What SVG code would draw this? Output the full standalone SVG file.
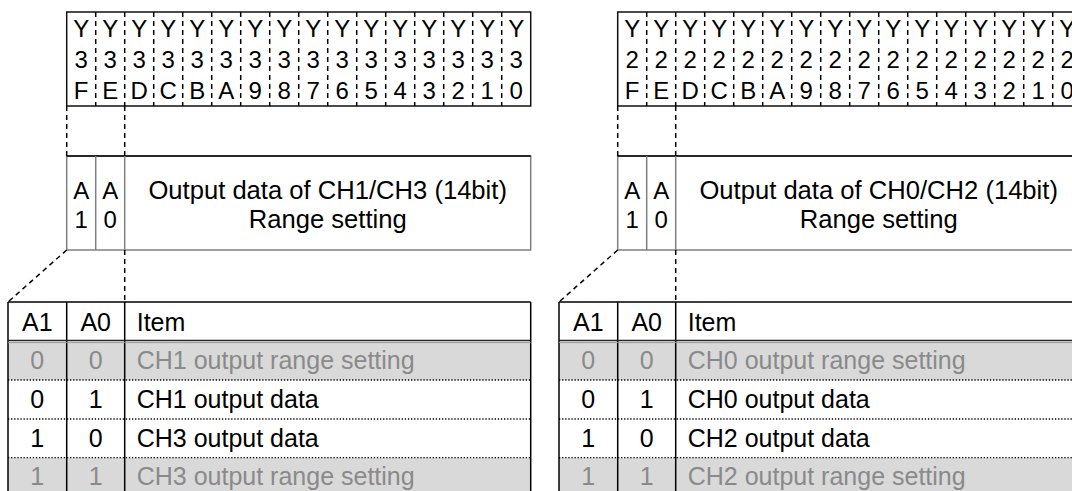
<svg xmlns="http://www.w3.org/2000/svg" width="1072" height="491" viewBox="0 0 1072 491">
<style>
text{font-family:"Liberation Sans",Arial,sans-serif;fill:#000}
.reg{font-size:24px;text-anchor:middle}
.ab{font-size:24px;text-anchor:middle}
.big{font-size:25.6px;text-anchor:middle}
.tb{font-size:25px}
.c{text-anchor:middle}
.g{fill:#8a8a8a}
.box{fill:#fff;stroke:#111;stroke-width:1.5}
.abox{fill:#fff;stroke:#808080;stroke-width:1.5}
.dash{stroke:#000;stroke-width:1.5;stroke-dasharray:5 4;fill:none}
.dot{stroke:#000;stroke-width:1.3;stroke-dasharray:1.3 1.8;fill:none}
.solid{stroke:#000;stroke-width:1.5;fill:none}
.grow{fill:#d9d9d9}
</style>

<g id="reg-left">
<rect class="box" x="66.7" y="12" width="464" height="94"/>
<path class="dash" d="M95.7 12V106M124.7 12V106M153.7 12V106M182.7 12V106M211.7 12V106M240.7 12V106M269.7 12V106M298.7 12V106M327.7 12V106M356.7 12V106M385.7 12V106M414.7 12V106M443.7 12V106M472.7 12V106M501.7 12V106"/>
<text class="reg"><tspan x="81.2" y="37">Y</tspan><tspan x="81.2" y="68">3</tspan><tspan x="81.2" y="99">F</tspan></text>
<text class="reg"><tspan x="110.2" y="37">Y</tspan><tspan x="110.2" y="68">3</tspan><tspan x="110.2" y="99">E</tspan></text>
<text class="reg"><tspan x="139.2" y="37">Y</tspan><tspan x="139.2" y="68">3</tspan><tspan x="139.2" y="99">D</tspan></text>
<text class="reg"><tspan x="168.2" y="37">Y</tspan><tspan x="168.2" y="68">3</tspan><tspan x="168.2" y="99">C</tspan></text>
<text class="reg"><tspan x="197.2" y="37">Y</tspan><tspan x="197.2" y="68">3</tspan><tspan x="197.2" y="99">B</tspan></text>
<text class="reg"><tspan x="226.2" y="37">Y</tspan><tspan x="226.2" y="68">3</tspan><tspan x="226.2" y="99">A</tspan></text>
<text class="reg"><tspan x="255.2" y="37">Y</tspan><tspan x="255.2" y="68">3</tspan><tspan x="255.2" y="99">9</tspan></text>
<text class="reg"><tspan x="284.2" y="37">Y</tspan><tspan x="284.2" y="68">3</tspan><tspan x="284.2" y="99">8</tspan></text>
<text class="reg"><tspan x="313.2" y="37">Y</tspan><tspan x="313.2" y="68">3</tspan><tspan x="313.2" y="99">7</tspan></text>
<text class="reg"><tspan x="342.2" y="37">Y</tspan><tspan x="342.2" y="68">3</tspan><tspan x="342.2" y="99">6</tspan></text>
<text class="reg"><tspan x="371.2" y="37">Y</tspan><tspan x="371.2" y="68">3</tspan><tspan x="371.2" y="99">5</tspan></text>
<text class="reg"><tspan x="400.2" y="37">Y</tspan><tspan x="400.2" y="68">3</tspan><tspan x="400.2" y="99">4</tspan></text>
<text class="reg"><tspan x="429.2" y="37">Y</tspan><tspan x="429.2" y="68">3</tspan><tspan x="429.2" y="99">3</tspan></text>
<text class="reg"><tspan x="458.2" y="37">Y</tspan><tspan x="458.2" y="68">3</tspan><tspan x="458.2" y="99">2</tspan></text>
<text class="reg"><tspan x="487.2" y="37">Y</tspan><tspan x="487.2" y="68">3</tspan><tspan x="487.2" y="99">1</tspan></text>
<text class="reg"><tspan x="516.2" y="37">Y</tspan><tspan x="516.2" y="68">3</tspan><tspan x="516.2" y="99">0</tspan></text>
</g>

<g id="abox-left">
<rect class="abox" x="66.7" y="156" width="464" height="94"/>
<path class="solid" d="M66.7 156H530.7"/>
<path d="M95.7 156V250M124.7 156V250" stroke="#808080" stroke-width="1.5"/>
<text class="ab"><tspan x="81.2" y="198.5">A</tspan><tspan x="81.2" y="228">1</tspan></text>
<text class="ab"><tspan x="110.2" y="198.5">A</tspan><tspan x="110.2" y="228">0</tspan></text>
<text class="big"><tspan x="327.7" y="198.5">Output data of CH1/CH3 (14bit)</tspan><tspan x="327.7" y="228">Range setting</tspan></text>
</g>

<g id="table-left">
<rect x="8" y="302" width="522.7" height="195" fill="#fff"/>
<rect class="grow" x="8" y="342" width="522.7" height="38"/>
<rect class="grow" x="8" y="457.7" width="522.7" height="40"/>
<path class="dot" d="M8 380H530.7M8 419H530.7M8 457.7H530.7"/>
<path class="solid" d="M8 302H530.7M8 302V491M66.7 302V491M124.7 302V491M530.7 302V491"/>
<path d="M8 340.5H530.7" stroke="#222" stroke-width="1.6"/>
<path d="M8 342.6H530.7" stroke="#999" stroke-width="1"/>
<text class="tb c" x="37.3" y="331">A1</text>
<text class="tb c" x="95.7" y="331">A0</text>
<text class="tb" x="136.7" y="331">Item</text>
<text class="tb c g" x="37.3" y="369">0</text>
<text class="tb c g" x="95.7" y="369">0</text>
<text class="tb g" x="136.7" y="369">CH1 output range setting</text>
<text class="tb c" x="37.3" y="408">0</text>
<text class="tb c" x="95.7" y="408">1</text>
<text class="tb" x="136.7" y="408">CH1 output data</text>
<text class="tb c" x="37.3" y="446.5">1</text>
<text class="tb c" x="95.7" y="446.5">0</text>
<text class="tb" x="136.7" y="446.5">CH3 output data</text>
<text class="tb c g" x="37.3" y="485">1</text>
<text class="tb c g" x="95.7" y="485">1</text>
<text class="tb g" x="136.7" y="485">CH3 output range setting</text>
</g>

<g id="reg-right">
<rect class="box" x="617.7" y="12" width="464" height="94"/>
<path class="dash" d="M646.7 12V106M675.7 12V106M704.7 12V106M733.7 12V106M762.7 12V106M791.7 12V106M820.7 12V106M849.7 12V106M878.7 12V106M907.7 12V106M936.7 12V106M965.7 12V106M994.7 12V106M1023.7 12V106M1052.7 12V106"/>
<text class="reg"><tspan x="632.2" y="37">Y</tspan><tspan x="632.2" y="68">2</tspan><tspan x="632.2" y="99">F</tspan></text>
<text class="reg"><tspan x="661.2" y="37">Y</tspan><tspan x="661.2" y="68">2</tspan><tspan x="661.2" y="99">E</tspan></text>
<text class="reg"><tspan x="690.2" y="37">Y</tspan><tspan x="690.2" y="68">2</tspan><tspan x="690.2" y="99">D</tspan></text>
<text class="reg"><tspan x="719.2" y="37">Y</tspan><tspan x="719.2" y="68">2</tspan><tspan x="719.2" y="99">C</tspan></text>
<text class="reg"><tspan x="748.2" y="37">Y</tspan><tspan x="748.2" y="68">2</tspan><tspan x="748.2" y="99">B</tspan></text>
<text class="reg"><tspan x="777.2" y="37">Y</tspan><tspan x="777.2" y="68">2</tspan><tspan x="777.2" y="99">A</tspan></text>
<text class="reg"><tspan x="806.2" y="37">Y</tspan><tspan x="806.2" y="68">2</tspan><tspan x="806.2" y="99">9</tspan></text>
<text class="reg"><tspan x="835.2" y="37">Y</tspan><tspan x="835.2" y="68">2</tspan><tspan x="835.2" y="99">8</tspan></text>
<text class="reg"><tspan x="864.2" y="37">Y</tspan><tspan x="864.2" y="68">2</tspan><tspan x="864.2" y="99">7</tspan></text>
<text class="reg"><tspan x="893.2" y="37">Y</tspan><tspan x="893.2" y="68">2</tspan><tspan x="893.2" y="99">6</tspan></text>
<text class="reg"><tspan x="922.2" y="37">Y</tspan><tspan x="922.2" y="68">2</tspan><tspan x="922.2" y="99">5</tspan></text>
<text class="reg"><tspan x="951.2" y="37">Y</tspan><tspan x="951.2" y="68">2</tspan><tspan x="951.2" y="99">4</tspan></text>
<text class="reg"><tspan x="980.2" y="37">Y</tspan><tspan x="980.2" y="68">2</tspan><tspan x="980.2" y="99">3</tspan></text>
<text class="reg"><tspan x="1009.2" y="37">Y</tspan><tspan x="1009.2" y="68">2</tspan><tspan x="1009.2" y="99">2</tspan></text>
<text class="reg"><tspan x="1038.2" y="37">Y</tspan><tspan x="1038.2" y="68">2</tspan><tspan x="1038.2" y="99">1</tspan></text>
<text class="reg"><tspan x="1067.2" y="37">Y</tspan><tspan x="1067.2" y="68">2</tspan><tspan x="1067.2" y="99">0</tspan></text>
</g>

<g id="abox-right">
<rect class="abox" x="617.7" y="156" width="464" height="94"/>
<path class="solid" d="M617.7 156H1081.7"/>
<path d="M646.7 156V250M675.7 156V250" stroke="#808080" stroke-width="1.5"/>
<text class="ab"><tspan x="632.2" y="198.5">A</tspan><tspan x="632.2" y="228">1</tspan></text>
<text class="ab"><tspan x="661.2" y="198.5">A</tspan><tspan x="661.2" y="228">0</tspan></text>
<text class="big"><tspan x="878.7" y="198.5">Output data of CH0/CH2 (14bit)</tspan><tspan x="878.7" y="228">Range setting</tspan></text>
</g>

<g id="table-right">
<rect x="559" y="302" width="522.7" height="195" fill="#fff"/>
<rect class="grow" x="559" y="342" width="522.7" height="38"/>
<rect class="grow" x="559" y="457.7" width="522.7" height="40"/>
<path class="dot" d="M559 380H1081.7M559 419H1081.7M559 457.7H1081.7"/>
<path class="solid" d="M559 302H1081.7M559 302V491M617.7 302V491M675.7 302V491"/>
<path d="M559 340.5H1081.7" stroke="#222" stroke-width="1.6"/>
<path d="M559 342.6H1081.7" stroke="#999" stroke-width="1"/>
<text class="tb c" x="588.3" y="331">A1</text>
<text class="tb c" x="646.7" y="331">A0</text>
<text class="tb" x="687.7" y="331">Item</text>
<text class="tb c g" x="588.3" y="369">0</text>
<text class="tb c g" x="646.7" y="369">0</text>
<text class="tb g" x="687.7" y="369">CH0 output range setting</text>
<text class="tb c" x="588.3" y="408">0</text>
<text class="tb c" x="646.7" y="408">1</text>
<text class="tb" x="687.7" y="408">CH0 output data</text>
<text class="tb c" x="588.3" y="446.5">1</text>
<text class="tb c" x="646.7" y="446.5">0</text>
<text class="tb" x="687.7" y="446.5">CH2 output data</text>
<text class="tb c g" x="588.3" y="485">1</text>
<text class="tb c g" x="646.7" y="485">1</text>
<text class="tb g" x="687.7" y="485">CH2 output range setting</text>
</g>

<g id="connectors">
<path class="dash" d="M66.7 106V156M124.7 106V156M124.7 250V302M66.7 250L8 302"/>
<path class="dash" d="M617.7 106V156M675.7 106V156M675.7 250V302M617.7 250L559 302"/>
</g>
</svg>
